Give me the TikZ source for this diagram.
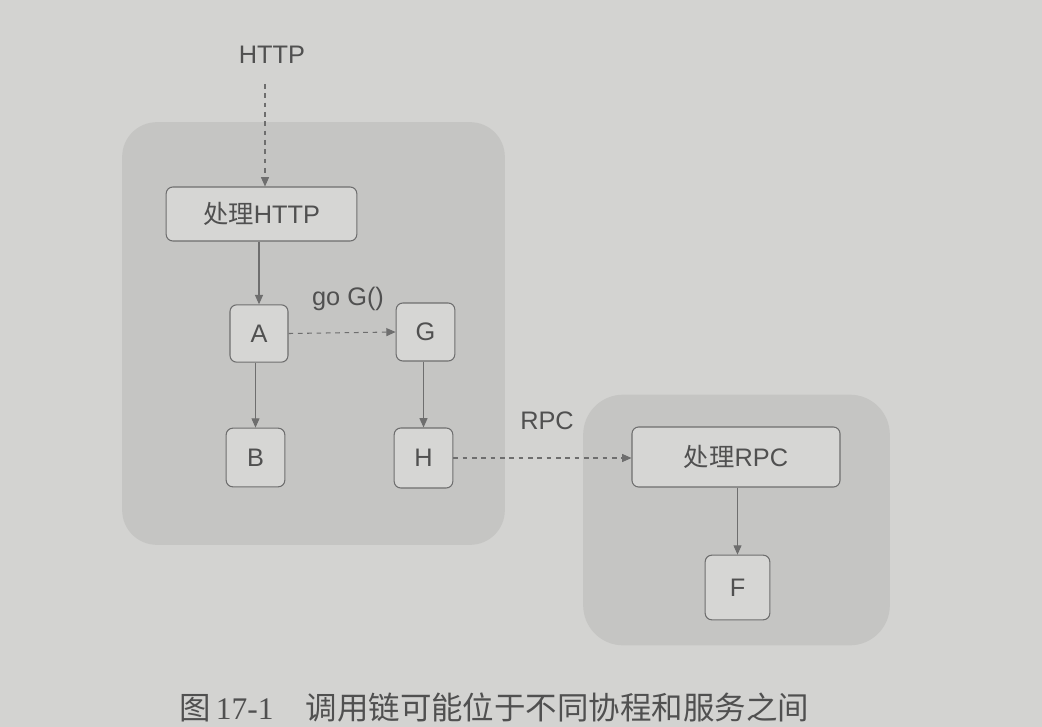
\documentclass[tikz,border=0pt]{standalone}
\usepackage{fontspec}
\setmainfont{Liberation Sans}
\newfontfamily\cjk{Noto Sans CJK SC}
\newfontfamily\capserif{Liberation Serif}
\usetikzlibrary{arrows.meta}
\definecolor{paper}{HTML}{D3D3D1}
\definecolor{grp}{HTML}{C5C5C3}
\definecolor{boxfill}{HTML}{D6D6D4}
\definecolor{ink}{HTML}{6E6E6E}
\definecolor{txt}{HTML}{505050}
\tikzset{
  grpbox/.style={fill=grp, draw=none, rounded corners=26pt, inner sep=0pt},
  stepbox/.style={fill=boxfill, draw=ink, line width=0.8pt, rounded corners=5pt, inner sep=0pt,
    text=txt, font=\fontsize{19}{22}\selectfont},
  lbl/.style={text=txt, font=\fontsize{19}{22}\selectfont, inner sep=1pt},
  conn/.style={draw=ink, line width=0.8pt, -{Triangle[length=7pt,width=6pt]}},
  dconn/.style={conn, dash pattern=on 3.5pt off 3.5pt},
}
\begin{document}
\begin{tikzpicture}[x=0.75pt,y=-0.75pt]
\fill[paper] (0,0) rectangle (1042,727);
\useasboundingbox (0,0) rectangle (1042,727);
% groups
\node[grpbox, minimum width=287pt, minimum height=317pt] (g1) at (313.5,333.5) {};
\node[grpbox, minimum width=230pt, minimum height=188pt, rounded corners=30pt] (g2) at (736.5,520) {};
% nodes
\node[lbl] (http) at (272,55) {HTTP};
\coordinate (httpend) at (265,84);
\node[stepbox, minimum width=143pt, minimum height=40.5pt] (ph) at (261.5,214) {{\cjk 处理}HTTP};
\node[stepbox, minimum width=43.5pt, minimum height=43pt] (A) at (259,333.5) {A};
\node[stepbox, minimum width=44pt, minimum height=43.5pt] (G) at (425.5,332) {G};
\node[stepbox, minimum width=44pt, minimum height=44pt] (B) at (255.5,457.5) {B};
\node[stepbox, minimum width=44pt, minimum height=45pt] (H) at (423.5,458) {H};
\node[stepbox, minimum width=156pt, minimum height=45pt] (pr) at (736,457) {{\cjk 处理}RPC};
\node[stepbox, minimum width=48.5pt, minimum height=48.5pt] (F) at (737.5,587.5) {F};
\node[lbl] (goG) at (348,299) {go G()};
\node[lbl] (rpc) at (547,421) {RPC};
% connectors
\draw[dconn] (httpend) -- (httpend |- ph.north);
\draw[conn] (ph.south -| A) -- (A.north);
\draw[dconn] (A.east) -- (G.west);
\draw[conn] (A.south -| B) -- (B.north);
\draw[conn] (G.south -| H) -- (H.north);
\draw[dconn] (H.east) -- (H.east -| pr.west);
\draw[conn] (pr.south -| F) -- (F.north);
% caption
\node[anchor=west, text=txt, inner sep=0pt, font=\fontsize{23.6}{27}\selectfont] (cap) at (179,708)
  {{\cjk 图}\,{\capserif 17-1}\hspace{24pt}{\cjk 调用链可能位于不同协程和服务之间}};
\end{tikzpicture}
\end{document}
